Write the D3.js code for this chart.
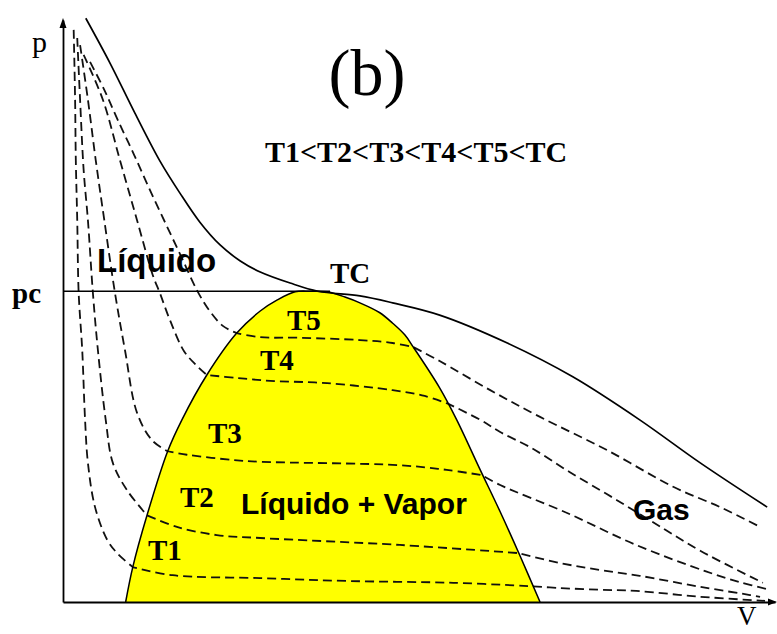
<!DOCTYPE html>
<html>
<head>
<meta charset="utf-8">
<script src="https://cdn.jsdelivr.net/npm/d3@7"></script>
<style>
  html, body { margin: 0; padding: 0; background: #fff; }
  svg { display: block; }
</style>
</head>
<body>
<svg id="chart" width="777" height="634"></svg>
<script>
// ---- Data: isotherms as [V, p] pairs (arbitrary units, 0..10 on both axes) ----
// Each subcritical isotherm = liquid branch, liquid+vapour plateau, gas branch.
const isothermNames = ["T1", "T2", "T3", "T4", "T5"];

const t1Liquid  = [[0.15,9.83],[0.17,8.63],[0.18,7.59],[0.20,6.56],[0.22,5.31],[0.27,4.33],[0.31,3.13],[0.35,2.39],[0.45,1.63],[0.62,1.07],[0.76,0.84],[0.98,0.60]];
const t1Plateau = [[0.98,0.60],[1.54,0.46],[2.77,0.41],[4.03,0.36],[5.48,0.33],[6.60,0.27]];
const t1Gas     = [[6.60,0.27],[6.98,0.24],[7.54,0.21],[8.05,0.19],[8.95,0.09],[9.86,0.02]];

const t2Liquid  = [[0.20,9.69],[0.24,8.63],[0.29,7.42],[0.35,6.56],[0.42,5.31],[0.49,4.33],[0.60,3.13],[0.70,2.39],[0.90,1.92],[1.18,1.49]];
const t2Plateau = [[1.18,1.49],[1.60,1.29],[2.16,1.15],[2.77,1.10],[4.73,0.98],[6.40,0.84]];
const t2Gas     = [[6.40,0.84],[6.98,0.67],[7.54,0.55],[8.10,0.45],[8.95,0.26],[9.65,0.12],[9.79,0.09]];

const t3Liquid  = [[0.24,9.57],[0.35,8.63],[0.46,7.59],[0.58,6.56],[0.73,5.31],[0.87,4.33],[1.04,3.25],[1.25,2.78],[1.47,2.59]];
const t3Plateau = [[1.47,2.59],[1.74,2.53],[2.39,2.44],[2.77,2.41],[4.73,2.35],[5.39,2.27],[5.88,2.18]];
const t3Gas     = [[5.88,2.18],[6.14,2.01],[7.08,1.53],[8.05,0.98],[9.02,0.53],[9.51,0.34],[9.93,0.21]];

const t4Liquid  = [[0.29,9.40],[0.56,8.63],[0.80,7.59],[1.04,6.56],[1.26,5.62],[1.36,5.31],[1.50,4.85],[1.70,4.31],[1.87,4.07],[2.02,3.90]];
const t4Plateau = [[2.02,3.90],[2.44,3.85],[2.91,3.80],[3.71,3.76],[4.63,3.64],[5.08,3.54],[5.42,3.40]];
const t4Gas     = [[5.42,3.40],[5.86,3.13],[6.14,2.92],[6.56,2.66],[7.12,2.23],[7.78,1.75],[8.46,1.24],[8.95,0.88],[9.83,0.33]];

const t5Liquid  = [[0.38,9.28],[0.58,8.80],[0.77,8.28],[1.00,7.68],[1.22,7.08],[1.45,6.48],[1.67,5.91],[1.88,5.36],[2.06,5.00],[2.25,4.74],[2.44,4.62]];
const t5Plateau = [[2.44,4.62],[2.77,4.55],[3.33,4.54],[4.17,4.50],[4.63,4.45],[4.92,4.38]];
const t5Gas     = [[4.92,4.38],[5.29,4.14],[6.00,3.64],[6.70,3.18],[7.64,2.61],[8.57,1.98],[9.23,1.63],[9.76,1.31]];

// Critical isotherm TC (solid)
const tcCurve = [[0.32,10.03],[0.66,9.26],[1.01,8.40],[1.36,7.58],[1.64,7.03],[1.92,6.53],[2.21,6.13],[2.49,5.86],[2.77,5.67],[3.19,5.48],[3.58,5.34],[4.17,5.26],[4.63,5.14],[5.29,4.93],[6.24,4.45],[7.16,3.87],[8.10,3.13],[8.95,2.39],[9.89,1.63]];

// Saturation dome (liquid + vapour region)
const domeBoundary = [[0.88,0],[0.98,0.60],[1.18,1.49],[1.47,2.59],[1.67,3.13],[2.02,3.90],[2.44,4.62],[2.77,5.00],[3.01,5.19],[3.26,5.33],[3.47,5.34],[3.71,5.33],[3.96,5.24],[4.17,5.14],[4.45,4.97],[4.63,4.79],[4.80,4.59],[4.92,4.38],[5.29,3.68],[5.53,3.13],[5.86,2.27],[6.14,1.55],[6.42,0.79],[6.70,0]];

// Critical pressure and the extent of its reference line
const pc = 5.34;
const pcLineEnd = 3.75;

const isotherms = [
  [t1Liquid, t1Plateau, t1Gas],
  [t2Liquid, t2Plateau, t2Gas],
  [t3Liquid, t3Plateau, t3Gas],
  [t4Liquid, t4Plateau, t4Gas],
  [t5Liquid, t5Plateau, t5Gas]
];

// ---- Drawing ----
const svg = d3.select("#chart");
const x = d3.scaleLinear().domain([0, 10]).range([63, 775]);
const y = d3.scaleLinear().domain([0, 10]).range([602, 20]);

const line = d3.line()
  .x(d => x(d[0]))
  .y(d => y(d[1]))
  .curve(d3.curveCatmullRom.alpha(0.5));

// join several smooth segments into one continuous path (keeps kinks at the joints)
function chained(segments) {
  return segments.map((s, i) => i === 0 ? line(s) : line(s).replace(/^M[^A-Za-z]*/, "")).join("");
}

const serif = "'Liberation Serif', 'Times New Roman', Times, serif";
const sans = "'Liberation Sans', Arial, Helvetica, sans-serif";

// yellow two-phase region
svg.append("path")
  .attr("d", line(domeBoundary) + "Z")
  .attr("fill", "#ffff00")
  .attr("stroke", "none");

// dashed subcritical isotherms
svg.append("g")
  .selectAll("path")
  .data(isotherms)
  .join("path")
  .attr("d", d => chained(d))
  .attr("fill", "none")
  .attr("stroke", "#111")
  .attr("stroke-width", 1.8)
  .attr("stroke-dasharray", "9,5");

// dome outline
svg.append("path")
  .attr("d", line(domeBoundary))
  .attr("fill", "none")
  .attr("stroke", "#000")
  .attr("stroke-width", 1.5);

// pc reference line
svg.append("line")
  .attr("x1", x(0)).attr("x2", x(pcLineEnd))
  .attr("y1", y(pc)).attr("y2", y(pc))
  .attr("stroke", "#000")
  .attr("stroke-width", 1.6);

// critical isotherm
svg.append("path")
  .attr("d", line(tcCurve))
  .attr("fill", "none")
  .attr("stroke", "#000")
  .attr("stroke-width", 1.7);

// axes
const yAxis = d3.axisLeft(y).tickValues([pc]).tickFormat(() => "pc").tickSize(0).tickPadding(22);
svg.append("g")
  .attr("transform", `translate(${x(0)},0)`)
  .call(yAxis)
  .call(g => g.select(".domain").attr("stroke", "#000").attr("stroke-width", 1.8))
  .call(g => g.selectAll(".tick text")
    .attr("font-family", serif)
    .attr("font-weight", "bold")
    .attr("font-size", 29)
    .attr("dy", "0.4em")
    .attr("fill", "#000"));

const xAxis = d3.axisBottom(x).tickValues([]).tickSize(0);
svg.append("g")
  .attr("transform", `translate(0,${y(0)})`)
  .call(xAxis)
  .call(g => g.select(".domain").attr("stroke", "#000").attr("stroke-width", 1.8));

// arrowheads
const yTip = [x(0), y(10)];
svg.append("path")
  .attr("d", `M${yTip[0]},${yTip[1] - 2}L${yTip[0] - 3.5},${yTip[1] + 8}L${yTip[0] + 3.5},${yTip[1] + 8}Z`)
  .attr("fill", "#000");
const xTip = [x(10), y(0)];
svg.append("path")
  .attr("d", `M${xTip[0] + 2},${xTip[1]}L${xTip[0] - 7},${xTip[1] - 3.5}L${xTip[0] - 7},${xTip[1] + 3.5}Z`)
  .attr("fill", "#000");

// axis titles
svg.append("text").attr("x", 32).attr("y", 52)
  .attr("font-family", serif).attr("font-size", 30).text("p");
svg.append("text").attr("x", 737).attr("y", 625)
  .attr("font-family", serif).attr("font-size", 27).text("V");

// panel tag and ordering note
svg.append("text").attr("x", 367).attr("y", 95).attr("text-anchor", "middle")
  .attr("font-family", serif).attr("font-size", 66).text("(b)");
svg.append("text").attr("x", 265).attr("y", 162)
  .attr("font-family", serif).attr("font-weight", "bold").attr("font-size", 30)
  .text("T1<T2<T3<T4<T5<TC");

// isotherm labels
const isoLabelAt = [[148, 560], [180, 507], [208, 443], [260, 370], [287, 330]];
svg.append("g")
  .selectAll("text")
  .data(isothermNames)
  .join("text")
  .attr("x", (d, i) => isoLabelAt[i][0])
  .attr("y", (d, i) => isoLabelAt[i][1])
  .attr("font-family", serif).attr("font-weight", "bold").attr("font-size", 29)
  .text(d => d);
svg.append("text").attr("x", 330).attr("y", 283)
  .attr("font-family", serif).attr("font-weight", "bold").attr("font-size", 29)
  .text("TC");

// region names
svg.append("text").attr("x", 97).attr("y", 272)
  .attr("font-family", sans).attr("font-weight", "bold").attr("font-size", 33)
  .text("Líquido");
svg.append("text").attr("x", 241).attr("y", 514)
  .attr("font-family", sans).attr("font-weight", "bold").attr("font-size", 30)
  .text("Líquido + Vapor");
svg.append("text").attr("x", 633).attr("y", 520)
  .attr("font-family", sans).attr("font-weight", "bold").attr("font-size", 30)
  .text("Gas");
</script>
</body>
</html>
